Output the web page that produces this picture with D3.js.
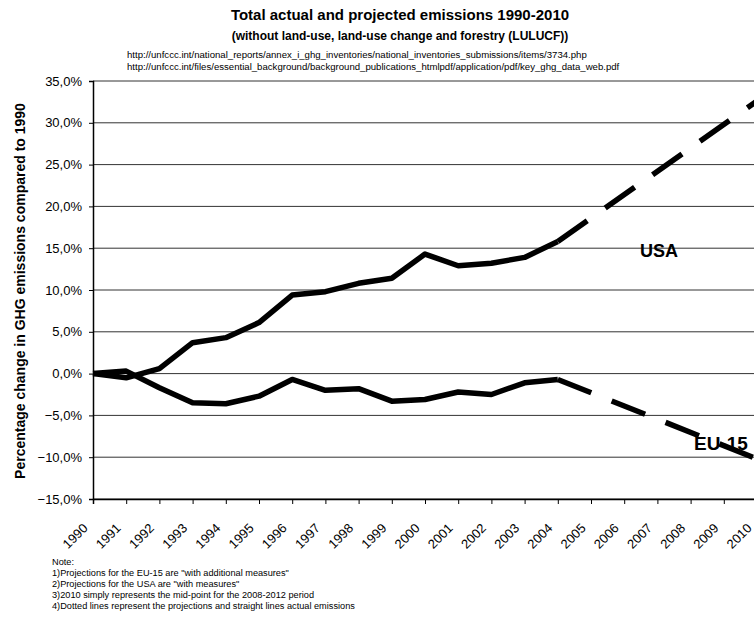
<!DOCTYPE html>
<html>
<head>
<meta charset="utf-8">
<script src="https://cdn.jsdelivr.net/npm/d3@7"></script>
<style>
  html, body { margin: 0; padding: 0; background: #fff; }
  svg { display: block; font-family: "Liberation Sans", Arial, sans-serif; }
</style>
</head>
<body>
<svg id="chart" width="754" height="617"></svg>
<script>
// ---- data ----
const years = [1990,1991,1992,1993,1994,1995,1996,1997,1998,1999,2000,2001,2002,2003,2004,2005,2006,2007,2008,2009,2010];
const actualYears = [1990,1991,1992,1993,1994,1995,1996,1997,1998,1999,2000,2001,2002,2003,2004];
const usaActual = [0, -0.5, 0.6, 3.7, 4.3, 6.1, 9.4, 9.8, 10.8, 11.4, 14.3, 12.9, 13.2, 13.9, 15.8];
const euActual  = [0, 0.3, -1.7, -3.5, -3.6, -2.7, -0.7, -2.0, -1.8, -3.3, -3.1, -2.2, -2.5, -1.1, -0.7];
const projYears = [2004, 2010];
const usaProjected = [15.8, 32.6];
const euProjected  = [-0.7, -10.2];
const yTicks = [-15,-10,-5,0,5,10,15,20,25,30,35];
const title = "Total actual and projected emissions 1990-2010";
const subtitle = "(without land-use, land-use change and forestry (LULUCF))";
const urls = [
  "http://unfccc.int/national_reports/annex_i_ghg_inventories/national_inventories_submissions/items/3734.php",
  "http://unfccc.int/files/essential_background/background_publications_htmlpdf/application/pdf/key_ghg_data_web.pdf"
];
const yLabel = "Percentage change in GHG emissions compared to 1990";
const notes = [
  "Note:",
  "1)Projections for the EU-15 are \"with additional measures\"",
  "2)Projections for the USA are \"with measures\"",
  "3)2010 simply represents the mid-point for the 2008-2012 period",
  "4)Dotted lines represent the projections and straight lines actual emissions"
];

(function () {
// ---- layout ----
const svg = d3.select("#chart");
const pLeft = 93, pRight = 757, pTop = 81, pBottom = 499;
const x = d3.scalePoint().domain(years).range([pLeft, pRight]);
const y = d3.scaleLinear().domain([-15, 35]).range([pBottom, pTop]);
const fmt = v => d3.format(".1f")(v).replace(".", ",") + "%";
const FONT = "'Liberation Sans', Arial, sans-serif";

// gridlines
svg.append("g").selectAll("line").data(yTicks).join("line")
  .attr("x1", pLeft).attr("x2", 754)
  .attr("y1", d => y(d)).attr("y2", d => y(d))
  .attr("stroke", "#333").attr("stroke-width", 1);

// y axis
const yAxis = svg.append("g").attr("transform", `translate(${pLeft},0)`)
  .call(d3.axisLeft(y).tickValues(yTicks).tickFormat(fmt).tickSize(4).tickPadding(7));
yAxis.select(".domain").attr("stroke", "#000").attr("stroke-width", 1.5);
yAxis.selectAll("text").attr("font-size", 13).attr("fill", "#000").attr("font-family", FONT);

// x axis
const xAxis = svg.append("g").attr("transform", `translate(0,${pBottom})`)
  .call(d3.axisBottom(x).tickSize(5).tickFormat(d => d));
xAxis.select(".domain").attr("stroke", "#000").attr("stroke-width", 1.5);
xAxis.selectAll("text")
  .attr("font-size", 13).attr("fill", "#000").attr("font-family", FONT)
  .attr("text-anchor", "end")
  .attr("dy", null)
  .attr("y", null)
  .attr("transform", "translate(-5,30) rotate(-45)");

// lines
const line = d3.line().x(d => x(d[0])).y(d => y(d[1]));
const series = [
  { xs: actualYears, vs: usaActual, dash: null },
  { xs: actualYears, vs: euActual, dash: null },
  { xs: projYears, vs: usaProjected, dash: "36,22" },
  { xs: projYears, vs: euProjected, dash: "36,22" }
];
svg.append("g").selectAll("path").data(series).join("path")
  .attr("d", s => line(s.xs.map((yr, i) => [yr, s.vs[i]])))
  .attr("fill", "none").attr("stroke", "#000").attr("stroke-width", 5.5)
  .attr("stroke-linejoin", "round")
  .attr("stroke-dasharray", s => s.dash);

// series labels
svg.append("text").attr("x", 659).attr("y", 257).attr("text-anchor", "middle")
  .attr("font-size", 18).attr("font-weight", "bold").text("USA");
svg.append("text").attr("x", 721).attr("y", 450).attr("text-anchor", "middle")
  .attr("font-size", 19).attr("font-weight", "bold").text("EU-15");

// titles
svg.append("text").attr("x", 400).attr("y", 20).attr("text-anchor", "middle")
  .attr("font-size", 15).attr("font-weight", "bold").text(title);
svg.append("text").attr("x", 400).attr("y", 40).attr("text-anchor", "middle")
  .attr("font-size", 12).attr("font-weight", "bold").text(subtitle);
svg.append("g").selectAll("text").data(urls).join("text")
  .attr("x", 127).attr("y", (d, i) => 58 + i * 12)
  .attr("font-size", 9.6).attr("fill", "#000").text(d => d);

// y label
svg.append("text")
  .attr("transform", `translate(25,291) rotate(-90)`)
  .attr("text-anchor", "middle").attr("font-size", 14).attr("font-weight", "bold")
  .text(yLabel);

// notes
svg.append("g").selectAll("text").data(notes).join("text")
  .attr("x", 52).attr("y", (d, i) => 565 + i * 11)
  .attr("font-size", 9.2).attr("fill", "#000").text(d => d);
})();
</script>
</body>
</html>
